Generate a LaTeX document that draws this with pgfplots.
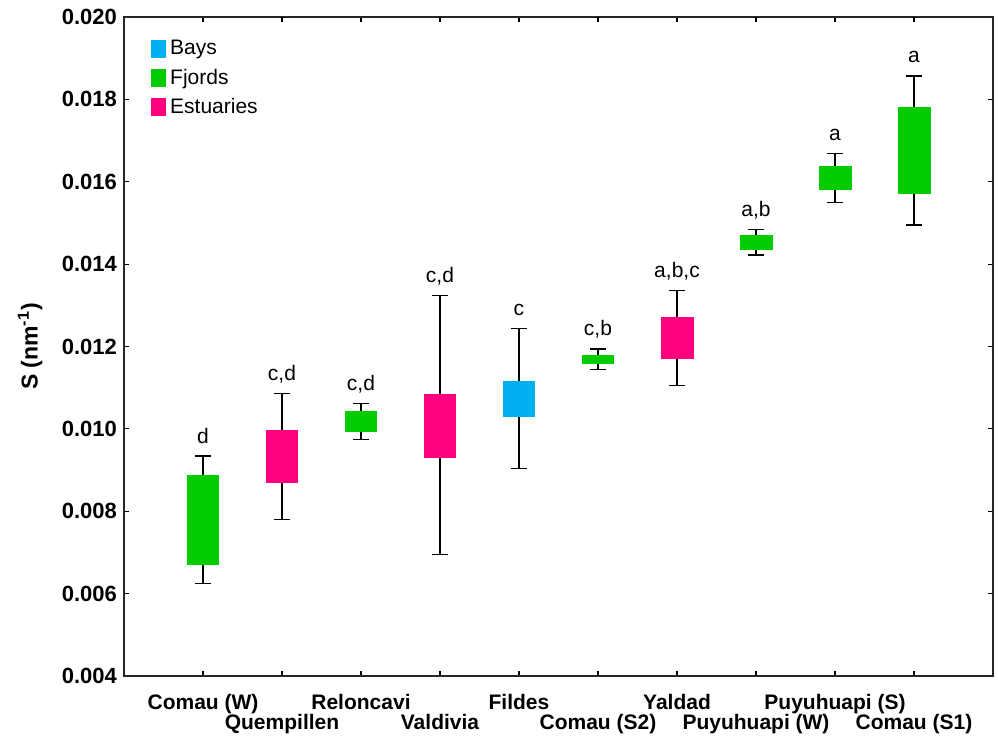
\documentclass[border=0pt]{standalone}
\usepackage{fontspec}
\setmainfont{Liberation Sans}
\usepackage{pgfplots}
\pgfplotsset{compat=1.18}
\usepgfplotslibrary{statistics}
\definecolor{bayc}{RGB}{0,176,240}
\definecolor{fjordc}{RGB}{0,204,0}
\definecolor{estc}{RGB}{255,0,127}
% values are S in units of 0.001 nm^-1
\newcommand{\bx}[7]{\addplot[boxplot prepared={draw direction=y, draw position=#1, lower whisker=#2, lower quartile=#3, median=#4, upper quartile=#5, upper whisker=#6, box extend=0.4, whisker extend=0.19, every whisker/.style={black,line width=0.6pt}, every median/.style={draw=none}}, fill=#7, draw=#7, line width=0.3pt] coordinates {};}
\pgfplotstableread{
x  y       lab
0  9.34    d
1  10.86   c,d
2  10.61   c,d
3  13.23   c,d
4  12.43   c
5  11.94   c,b
6  13.36   a,b,c
7  14.84   a,b
8  16.69   a
9  18.57   a
}\lettertable
\begin{document}
\begin{tikzpicture}
\begin{axis}[
  scale only axis, width=434.5pt, height=329.5pt,
  xmin=-1, xmax=10, ymin=4, ymax=20,
  ytick={4,6,8,10,12,14,16,18,20},
  yticklabels={0.004,0.006,0.008,0.010,0.012,0.014,0.016,0.018,0.020},
  tick label style={font=\fontsize{11}{13}\selectfont\bfseries},
  xtick={0,2,4,6,8},
  xticklabels={Comau (W),Reloncavi,Fildes,Yaldad,Puyuhuapi (S)},
  extra x ticks={1,3,5,7,9},
  extra x tick labels={Quempillen,Valdivia,Comau (S2),Puyuhuapi (W),Comau (S1)},
  xticklabel style={anchor=base, yshift=-16.5pt, font=\fontsize{10.5}{12}\selectfont\bfseries},
  extra x tick style={xticklabel style={yshift=-10pt}},
  tick align=inside, major tick length=2.5pt,
  tick style={black, line width=0.6pt},
  axis line style={line width=0.75pt, black!85},
  ylabel={S (nm\textsuperscript{-1})},
  ylabel style={at={(axis description cs:-0.108,0.5)}, anchor=center, font=\fontsize{11.5}{13}\selectfont\bfseries},
  legend style={at={(axis description cs:0,1)}, anchor=north west, xshift=13.5pt, yshift=-9.5pt, draw=none, fill=none, inner sep=0pt, row sep=1.5pt, font=\fontsize{10.5}{12}\selectfont, nodes={inner sep=2pt}},
  legend cell align=left,
  every node near coord/.style={anchor=base, yshift=6.5pt, font=\fontsize{10.5}{12}\selectfont, black},
  clip=false,
]
\addlegendimage{legend image code/.code={\fill[bayc] (-1.5pt,-4.25pt) rectangle (5.5pt,4.25pt);}}
\addlegendentry{Bays}
\addlegendimage{legend image code/.code={\fill[fjordc] (-1.5pt,-4.25pt) rectangle (5.5pt,4.25pt);}}
\addlegendentry{Fjords}
\addlegendimage{legend image code/.code={\fill[estc] (-1.5pt,-4.25pt) rectangle (5.5pt,4.25pt);}}
\addlegendentry{Estuaries}
\bx{0}{6.25}{6.70}{7.8}{8.88}{9.34}{fjordc}
\bx{1}{7.80}{8.71}{9.3}{9.97}{10.86}{estc}
\bx{2}{9.75}{9.93}{10.2}{10.43}{10.61}{fjordc}
\bx{3}{6.95}{9.30}{10.1}{10.85}{13.23}{estc}
\bx{4}{9.03}{10.31}{10.7}{11.16}{12.43}{bayc}
\bx{5}{11.45}{11.59}{11.7}{11.79}{11.94}{fjordc}
\bx{6}{11.06}{11.71}{12.2}{12.72}{13.36}{estc}
\bx{7}{14.22}{14.36}{14.5}{14.70}{14.84}{fjordc}
\bx{8}{15.50}{15.82}{16.1}{16.37}{16.69}{fjordc}
\bx{9}{14.95}{15.72}{16.8}{17.81}{18.57}{fjordc}
\addplot[draw=none, mark=none, nodes near coords, point meta=explicit symbolic] table[x=x, y=y, meta=lab] {\lettertable};
\end{axis}
\pgfresetboundingbox
\path[use as bounding box] (-62pt,-30pt) rectangle (437pt,338pt);
\end{tikzpicture}
\end{document}
